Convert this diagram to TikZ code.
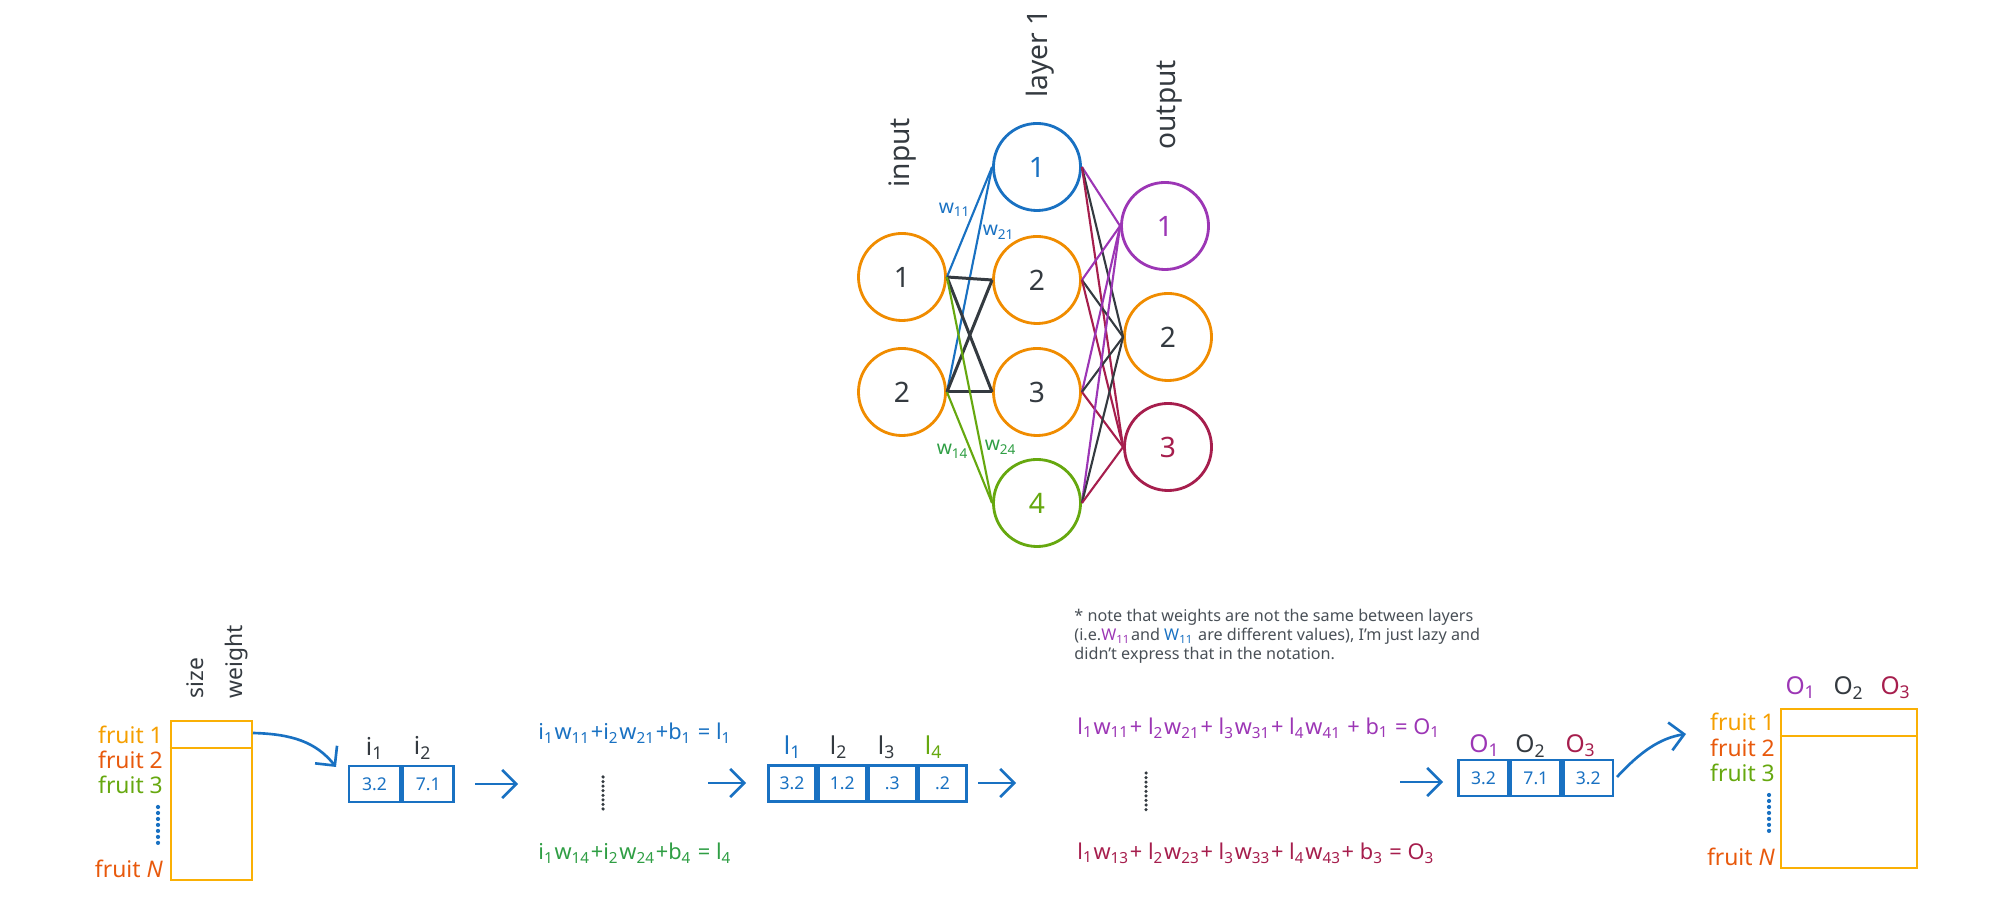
\documentclass[tikz,border=0pt]{standalone}
\usepackage{fontspec}
\setmainfont{Noto Sans}
\usetikzlibrary{arrows.meta}
\definecolor{cblue}{HTML}{1971C2}
\definecolor{corange}{HTML}{F08C00}
\definecolor{cdark}{HTML}{343A40}
\definecolor{cnote}{HTML}{495057}
\definecolor{cgreen}{HTML}{2F9E44}
\definecolor{clime}{HTML}{66A80F}
\definecolor{cpurple}{HTML}{9C36B5}
\definecolor{ccrim}{HTML}{A61E4D}
\definecolor{cyel}{HTML}{F59F00}
\definecolor{ctab}{HTML}{FAB005}
\definecolor{cred}{HTML}{E8590C}
\newcommand\myfs[1]{\fontsize{#1}{#1}\selectfont}
\newcommand\myss[1]{\textsubscript{#1}}
\tikzset{
  neuron/.style={circle, draw, line width=0.8pt, minimum size=0.87cm, inner sep=0pt, font=\myfs{8}},
  edge/.style={line width=0.6pt},
  cell/.style={rectangle, draw=cblue, line width=0.75pt, minimum height=0.36cm, inner sep=0pt, text=cblue, font=\myfs{5}},
  arr/.style={-{Straight Barb[length=4pt,width=8pt]}, draw=cblue, line width=0.75pt},
  vlabel/.style={rotate=90, anchor=west, text=cdark, font=\myfs{8}},
  wlabel/.style={font=\myfs{5.5}},
  eqn/.style={anchor=west, font=\myfs{6.2}},
  fruit/.style={anchor=east, font=\myfs{6.5}, inner sep=1pt},
  collabel/.style={font=\myfs{7}},
  tabbox/.style={rectangle, draw=ctab, line width=0.8pt, inner sep=0pt},
  dotsblue/.style={draw=cblue, line width=1.2pt, line cap=round, dash pattern=on 0pt off 1.7pt},
  dotsdark/.style={draw=cdark, line width=1pt, line cap=round, dash pattern=on 0pt off 1.3pt},
}
\begin{document}
\begin{tikzpicture}[x=0.01cm, y=-0.01cm]
\useasboundingbox (0,0) rectangle (2000,904);

% ---------- network ----------
\node[neuron, draw=corange, text=cdark] (in1) at (902,277) {1};
\node[neuron, draw=corange, text=cdark] (in2) at (902,392) {2};
\node[neuron, draw=cblue, text=cblue] (h1) at (1037,167) {1};
\node[neuron, draw=corange, text=cdark] (h2) at (1037,280) {2};
\node[neuron, draw=corange, text=cdark] (h3) at (1037,392) {3};
\node[neuron, draw=clime, text=clime] (h4) at (1037,503) {4};
\node[neuron, draw=cpurple, text=cpurple] (o1) at (1165,226) {1};
\node[neuron, draw=corange, text=cdark] (o2) at (1168,337) {2};
\node[neuron, draw=ccrim, text=ccrim] (o3) at (1168,447) {3};

\node[vlabel] (lin) at (902,200) {input};
\node[vlabel] (lhid) at (1040,110) {layer 1};
\node[vlabel] (lout) at (1170,162) {output};

% input -> layer 1
\draw[edge, cblue] (in1.east) -- (h1.west);
\draw[edge, cblue] (in2.east) -- (h1.west);
\draw[edge, cdark, line width=0.85pt] (in1.east) -- (h2.west);
\draw[edge, cdark, line width=0.85pt] (in2.east) -- (h2.west);
\draw[edge, cdark, line width=0.85pt] (in1.east) -- (h3.west);
\draw[edge, cdark, line width=0.85pt] (in2.east) -- (h3.west);
\draw[edge, clime] (in1.east) -- (h4.west);
\draw[edge, clime] (in2.east) -- (h4.west);

% layer 1 -> output
\foreach \h in {h1,h2,h3,h4}{
  \draw[edge, cpurple] (\h.east) -- (o1.west);
  \draw[edge, cdark] (\h.east) -- (o2.west);
  \draw[edge, ccrim] (\h.east) -- (o3.west);
}

\node[wlabel, text=cblue] (w11) at (955,210) {w\myss{11}};
\node[wlabel, text=cblue] (w21) at (999,232) {w\myss{21}};
\node[wlabel, text=cgreen] (w14) at (953,451) {w\myss{14}};
\node[wlabel, text=cgreen] (w24) at (1001,447) {w\myss{24}};

% ---------- left table ----------
\node[tabbox, minimum width=0.81cm, minimum height=1.59cm] (tabL) at (211.5,800.5) {};
\draw[draw=ctab, line width=0.8pt] (tabL.west |- 0,748) -- (tabL.east |- 0,748);
\node[vlabel, font=\myfs{6.5}] (lsize) at (195,711) {size};
\node[vlabel, font=\myfs{6.5}] (lweight) at (237,711) {weight};
\node[fruit, text=cyel] (fl1) at (167,735) {fruit 1};
\node[fruit, text=cred] (fl2) at (167,760) {fruit 2};
\node[fruit, text=clime] (fl3) at (167,785) {fruit 3};
\node[fruit, text=cred] (flN) at (167,869) {fruit \textit{N}};
\draw[dotsblue] (158,807) -- (158,846);

\coordinate (c1s) at (253,733);
\coordinate (c1e) at (336,767);
\draw[arr] (c1s) .. controls (292,734) and (316,742) .. (c1e);

% ---------- i box ----------
\node[cell, minimum width=0.51cm] (ib1) at (374.5,784) {3.2};
\node[cell, minimum width=0.51cm, anchor=west] (ib2) at (ib1.east) {7.1};
\node[collabel, text=cdark] (li1) at (375,748) {i\myss{1}};
\node[collabel, text=cdark] (li2) at (423,748) {i\myss{2}};

\coordinate (a1s) at (475,784);
\coordinate (a1e) at (518,784);
\draw[arr] (a1s) -- (a1e);

% ---------- equations layer 1 ----------
\node[eqn, text=cblue] (eq1) at (526,733) {i\myss{1}w\myss{11}+i\myss{2}w\myss{21}+\textbf{b}\myss{1} = l\myss{1}};
\draw[dotsdark] (603,777) -- (603,813);
\node[eqn, text=cgreen] (eq2) at (526,853) {i\myss{1}w\myss{14}+i\myss{2}w\myss{24}+\textbf{b}\myss{4} = l\myss{4}};

\coordinate (a2s) at (708,783);
\coordinate (a2e) at (746,783);
\draw[arr] (a2s) -- (a2e);

% ---------- l box ----------
\node[cell, minimum width=0.475cm] (lb1) at (792,783.5) {3.2};
\node[cell, minimum width=0.475cm, anchor=west] (lb2) at (lb1.east) {1.2};
\node[cell, minimum width=0.475cm, anchor=west] (lb3) at (lb2.east) {.3};
\node[cell, minimum width=0.475cm, anchor=west] (lb4) at (lb3.east) {.2};
\node[collabel, text=cblue] (ll1) at (793,747) {l\myss{1}};
\node[collabel, text=cdark] (ll2) at (839,747) {l\myss{2}};
\node[collabel, text=cdark] (ll3) at (887,747) {l\myss{3}};
\node[collabel, text=clime] (ll4) at (934,747) {l\myss{4}};

\coordinate (a3s) at (978,783);
\coordinate (a3e) at (1016,783);
\draw[arr] (a3s) -- (a3e);

% ---------- note ----------
\node[anchor=west, align=left, text=cnote, font=\fontsize{4.6}{5.4}\selectfont] (note) at (1062,636)
{* note that weights are not the same between layers\\
(i.e.{\color{cpurple}\textbf{W}\myss{11}}and {\color{cblue}\textbf{W}\myss{11}} are different values), I'm just lazy and\\
didn't express that in the notation.};

% ---------- equations output ----------
\node[eqn, text=cpurple] (eq3) at (1065,728) {l\myss{1}w\myss{11}+ l\myss{2}w\myss{21}+ l\myss{3}w\myss{31}+ l\myss{4}w\myss{41} + \textbf{b}\myss{1} = O\myss{1}};
\draw[dotsdark] (1146,773) -- (1146,810);
\node[eqn, text=ccrim] (eq4) at (1065,853) {l\myss{1}w\myss{13}+ l\myss{2}w\myss{23}+ l\myss{3}w\myss{33}+ l\myss{4}w\myss{43}+ \textbf{b}\myss{3} = O\myss{3}};

\coordinate (a4s) at (1400,782);
\coordinate (a4e) at (1443,782);
\draw[arr] (a4s) -- (a4e);

% ---------- O box ----------
\node[cell, minimum width=0.497cm] (ob1) at (1483.5,778) {3.2};
\node[cell, minimum width=0.497cm, anchor=west] (ob2) at (ob1.east) {7.1};
\node[cell, minimum width=0.497cm, anchor=west] (ob3) at (ob2.east) {3.2};
\node[collabel, text=cpurple] (lo1) at (1485,746) {O\myss{1}};
\node[collabel, text=cdark] (lo2) at (1531,746) {O\myss{2}};
\node[collabel, text=ccrim] (lo3) at (1581,746) {O\myss{3}};

\coordinate (c2s) at (1617,777);
\coordinate (c2e) at (1686,734);
\draw[arr] (c2s) .. controls (1640,752) and (1660,738) .. (c2e);

% ---------- right table ----------
\node[tabbox, minimum width=1.36cm, minimum height=1.59cm] (tabR) at (1849,788.5) {};
\draw[draw=ctab, line width=0.8pt] (tabR.west |- 0,736) -- (tabR.east |- 0,736);
\node[collabel, text=cpurple] (ro1) at (1801,688) {O\myss{1}};
\node[collabel, text=cdark] (ro2) at (1849,688) {O\myss{2}};
\node[collabel, text=ccrim] (ro3) at (1896,688) {O\myss{3}};
\node[fruit, text=cyel] (fr1) at (1779,722) {fruit 1};
\node[fruit, text=cred] (fr2) at (1779,748) {fruit 2};
\node[fruit, text=clime] (fr3) at (1779,773) {fruit 3};
\node[fruit, text=cred] (frN) at (1779,857) {fruit \textit{N}};
\draw[dotsblue] (1769,795) -- (1769,833);
\end{tikzpicture}
\end{document}
